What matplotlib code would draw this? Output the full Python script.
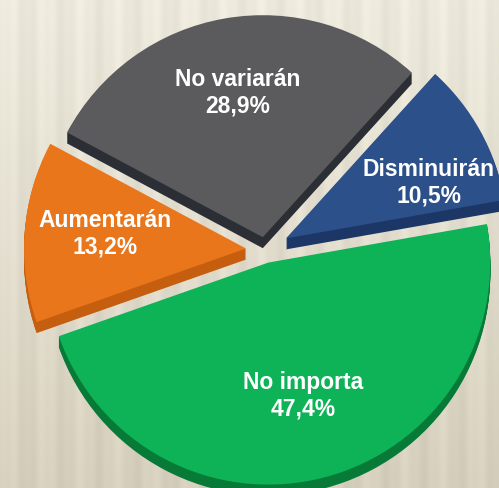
import numpy as np
import matplotlib.pyplot as plt

# datos del gráfico (orden antihorario desde la derecha)
categorias = ['Disminuirán', 'No variarán', 'Aumentarán', 'No importa']
porcentajes = [10.5, 28.9, 13.2, 47.4]

colores = ['#2c5089', '#5b5b5d', '#e9761b', '#0db356']
colores_lado = ['#1c3766', '#2b2f35', '#c55e0e', '#087a38']
separacion = [24, 13, 19, 13]   # en píxeles
dist_texto = [0.69, 0.66, 0.64, 0.62]
giro_texto = [-7.5, 0, -1.5, 0]   # grados

W, H = 499, 488
fig = plt.figure(figsize=(W / 100, H / 100), dpi=100)
ax = fig.add_axes([0, 0, 1, 1])

# fondo con rayas verticales
xx = np.arange(W)
yy = np.arange(H)[:, None]
rayas = np.sin(xx / 36.0 * 2 * np.pi) * 0.5 + np.sin(xx / 13.0 * 2 * np.pi + 1) * 0.25
arriba = np.array([237, 234, 221]) / 255
abajo = np.array([214, 207, 189]) / 255
t = (yy / H)[..., None]
fondo = arriba * (1 - t) + abajo * t + rayas[None, :, None] * 0.035
ax.imshow(np.clip(fondo, 0, 1), extent=(0, W, 0, H), aspect='auto', zorder=0)

centro = (265, 238)
radio = 222
grosor = 11

# lado (profundidad)
for d in range(grosor, 0, -1):
    w, _ = ax.pie(porcentajes, colors=colores_lado, startangle=10,
                  explode=separacion, radius=radio, center=(centro[0], centro[1] - d),
                  frame=True, wedgeprops=dict(linewidth=0))
    for p in w:
        p.set_zorder(1)

# cara superior
cuñas, _ = ax.pie(porcentajes, colors=colores, startangle=10,
                  explode=separacion, radius=radio, center=centro,
                  frame=True, wedgeprops=dict(linewidth=0))
for p in cuñas:
    p.set_zorder(2)

for p, cat, val, f, g in zip(cuñas, categorias, porcentajes, dist_texto, giro_texto):
    ang = np.deg2rad((p.theta1 + p.theta2) / 2 + g)
    cx, cy = p.center
    x = cx + f * radio * np.cos(ang)
    y = cy + f * radio * np.sin(ang)
    txt = cat + '\n' + ('%.1f' % val).replace('.', ',') + '%'
    ax.text(x, y, txt, ha='center', va='center', color='white',
            fontsize=16.5, fontweight='bold', family='Liberation Sans',
            linespacing=1.2, zorder=5)

ax.set_xlim(0, W)
ax.set_ylim(0, H)
ax.set_aspect('auto')
ax.axis('off')

fig.savefig('out.png', dpi=100)
